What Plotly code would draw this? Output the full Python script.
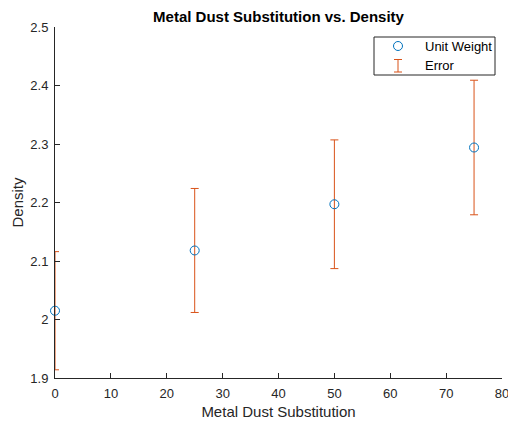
import plotly.graph_objects as go

substitution = [0, 25, 50, 75]
density = [2.015, 2.118, 2.197, 2.294]
error = [0.101, 0.106, 0.110, 0.115]
legend_labels = ["Unit Weight", "Error"]

blue = "#0072BD"
orange = "#D95319"
axis_col = "#262626"
font_fam = "Liberation Sans, Arial"

fig = go.Figure()
fig.add_trace(go.Scatter(
    x=substitution, y=density, mode="markers", name=legend_labels[1],
    marker=dict(size=1, color="rgba(0,0,0,0)"),
    error_y=dict(type="data", array=error, visible=True, color=orange,
                 thickness=1, width=4),
    showlegend=False, cliponaxis=False, hoverinfo="skip"))
fig.add_trace(go.Scatter(
    x=substitution, y=density, mode="markers", name=legend_labels[0],
    marker=dict(symbol="circle-open", size=9, color=blue, line=dict(width=1, color=blue)),
    showlegend=False, cliponaxis=False))

axis_common = dict(showline=True, linecolor=axis_col, linewidth=1, ticks="inside",
                   ticklen=5, tickcolor=axis_col, showgrid=False, zeroline=False,
                   tickfont=dict(family=font_fam, size=13, color=axis_col),
                   ticklabeloverflow="allow", ticklabelstandoff=3, mirror=False,
                   automargin=False)

# --- manual legend (box, icons, labels) in plot-area pixel geometry ---
L, R, T, B = 55, 502, 27, 378
W, H = R - L, B - T
px = lambda x: (x - L) / W
py = lambda y: (B - y) / H

shapes = [
    dict(type="rect", xref="paper", yref="paper", x0=px(374), x1=px(495),
         y0=py(75), y1=py(37), line=dict(color=axis_col, width=1), fillcolor="white"),
    dict(type="circle", xref="paper", yref="paper", xsizemode="pixel", ysizemode="pixel",
         xanchor=px(398), yanchor=py(46), x0=-4.5, x1=4.5, y0=-4.5, y1=4.5,
         line=dict(color=blue, width=1)),
    dict(type="line", xref="paper", yref="paper", x0=px(398), x1=px(398),
         y0=py(72), y1=py(59.5), line=dict(color=orange, width=1)),
    dict(type="line", xref="paper", yref="paper", x0=px(394), x1=px(402),
         y0=py(72), y1=py(72), line=dict(color=orange, width=1)),
    dict(type="line", xref="paper", yref="paper", x0=px(394), x1=px(402),
         y0=py(59.5), y1=py(59.5), line=dict(color=orange, width=1)),
]
annotations = [
    dict(text=legend_labels[0], xref="paper", yref="paper", x=px(423), y=py(46),
         xanchor="left", yanchor="middle", showarrow=False,
         font=dict(family=font_fam, size=13, color="black")),
    dict(text=legend_labels[1], xref="paper", yref="paper", x=px(423), y=py(65),
         xanchor="left", yanchor="middle", showarrow=False,
         font=dict(family=font_fam, size=13, color="black")),
]

fig.update_layout(
    width=508, height=423,
    margin=dict(l=L, r=508 - R, t=T, b=423 - B),
    paper_bgcolor="white", plot_bgcolor="white",
    showlegend=False,
    shapes=shapes, annotations=annotations,
    title=dict(text="<b>Metal Dust Substitution vs. Density</b>", x=0.5, xref="paper",
               y=1, yref="paper", yanchor="bottom", pad=dict(b=5),
               font=dict(family=font_fam, size=15, color="black")),
    xaxis=dict(range=[0, 80], dtick=10,
               title=dict(text="Metal Dust Substitution", standoff=6,
                          font=dict(family=font_fam, size=15, color=axis_col)),
               **axis_common),
    yaxis=dict(range=[1.9, 2.5], dtick=0.1,
               title=dict(text="Density", standoff=3,
                          font=dict(family=font_fam, size=15, color=axis_col)),
               **axis_common),
)

fig.write_html("out.html")
